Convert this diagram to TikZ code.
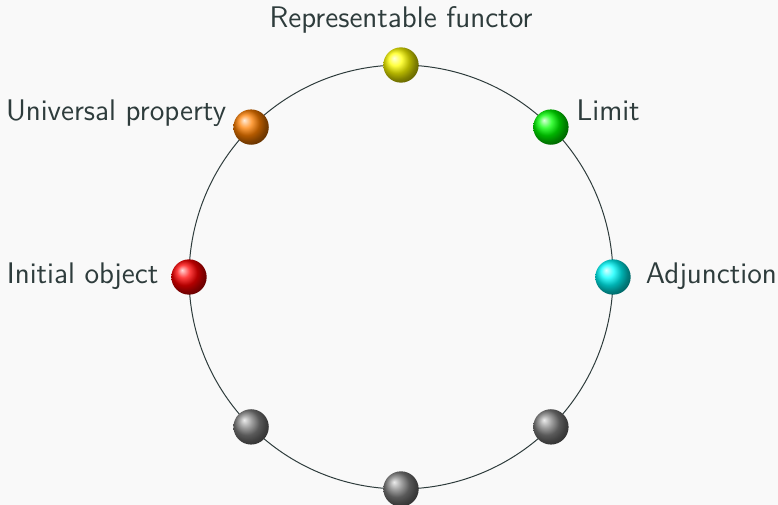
\documentclass[tikz,border=0pt]{standalone}
\usetikzlibrary{positioning,shadings}
\definecolor{paper}{HTML}{F9F9F9}
\definecolor{ink}{HTML}{2E3C3C}
\tikzset{
	ball/.style={circle, minimum size=5mm, inner sep=0pt, ball color=#1},
	tag/.style={text=ink, font=\sffamily\fontsize{12}{14}\selectfont, inner sep=0pt},
	rim/.style={draw=ink, line width=0.4pt}
}
\begin{document}
\begin{tikzpicture}
	\fill[paper] (-5.675,-3.226) rectangle (5.335,3.920);
	\useasboundingbox (-5.675,-3.226) rectangle (5.335,3.920);
	\draw[rim] (0,0) circle (3cm);
	% balls round the circle
	\node[ball=yellow] (repr) at (90:3) {};
	\node[ball=green] (limit) at (45:3) {};
	\node[ball=cyan] (adj) at (0:3) {};
	\node[ball=gray] (se) at (-45:3) {};
	\node[ball=gray] (south) at (-90:3) {};
	\node[ball=gray] (sw) at (-135:3) {};
	\node[ball=red] (init) at (180:3) {};
	\node[ball=orange] (univ) at (135:3) {};
	% labels
	\node[tag, above=2.7mm of repr.north, anchor=base] (reprtag) {Representable functor};
	\node[tag, right=1mm of limit.east, anchor=base west, yshift=1mm] (limittag) {Limit};
	\node[tag, right=2mm of adj.east, anchor=base west, yshift=-0.9mm] (adjtag) {Adjunction};
	\node[tag, left=1.7mm of init.west, anchor=base east, yshift=-0.9mm] (inittag) {Initial object};
	\node[tag, left=0.9mm of univ.west, anchor=base east, yshift=1mm] (univtag) {Universal property};
\end{tikzpicture}
\end{document}
